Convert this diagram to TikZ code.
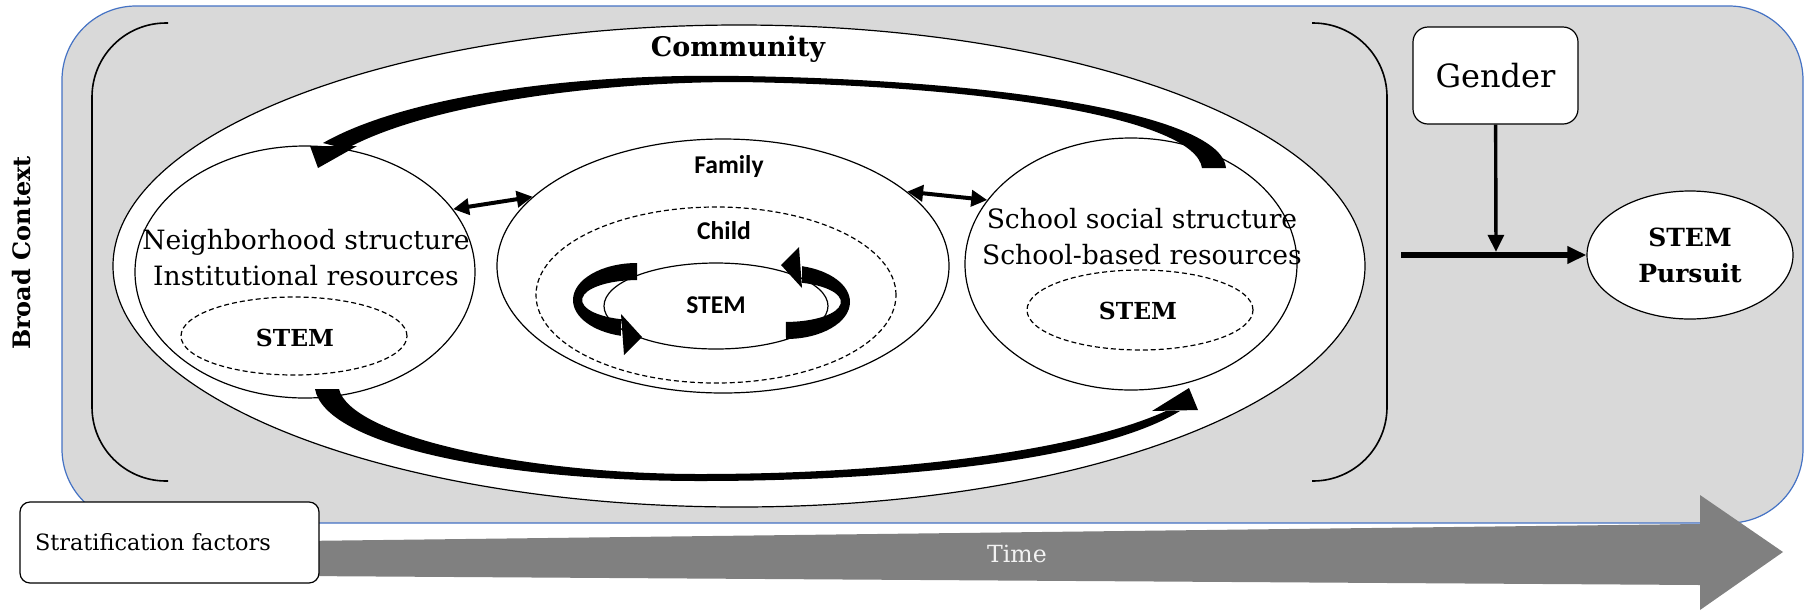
\documentclass[tikz,border=0pt]{standalone}
\usepackage{fontspec}
\setmainfont{DejaVu Serif}
\newfontfamily\calibri{Carlito}
\usetikzlibrary{shapes.geometric, arrows.meta}
\definecolor{ctxgray}{RGB}{217,217,217}
\definecolor{ctxblue}{RGB}{68,114,196}
\definecolor{timegray}{RGB}{128,128,128}

\begin{document}
\begin{tikzpicture}[x=0.5pt, y=-0.5pt, line width=0.6pt,
  ring/.style={draw, ellipse, fill=white, inner sep=0pt},
  dashring/.style={ring, dash pattern=on 2.5pt off 1.5pt},
  slab/.style={font=\fontsize{13.3}{18}\selectfont},
  stemlbl/.style={font=\bfseries\fontsize{11.7}{14}\selectfont},
  famlbl/.style={font=\calibri\bfseries\fontsize{12.8}{15}\selectfont},
  dbl/.style={{Triangle[length=8pt,width=8pt]}-{Triangle[length=8pt,width=8pt]}, line width=2pt}]
  \useasboundingbox (0,0) rectangle (1811,612);

  % broad context panel
  \draw[ctxblue, fill=ctxgray, rounded corners=37pt] (62,6) rectangle (1803,523);

  % time axis
  \fill[timegray] (300,541) -- (1700,524) -- (1700,495) -- (1783,552) -- (1700,610) -- (1700,585) -- (300,576) -- cycle;
  \node[anchor=base, text=white!95!black, font=\fontsize{11.8}{14}\selectfont] (time) at (1017,562) {Time};
  \node[draw, fill=white, rounded corners=5pt, minimum width=149.5pt, minimum height=40.5pt,
        text width=134.5pt, inner xsep=7.5pt, align=left, font=\fontsize{11.2}{14}\selectfont]
        (strat) at (169.5,542.5) {Stratification factors};

  % brackets round the community
  \draw[line width=0.8pt, rounded corners=37pt] (168,23) -- (92,23) -- (92,481) -- (168,481);
  \draw[line width=0.8pt, rounded corners=37pt] (1312,23) -- (1387,23) -- (1387,481) -- (1312,481);

  % community
  \node[ring, minimum width=626pt, minimum height=241pt] (comm) at (739,266) {};
  \node[anchor=base, font=\bfseries\fontsize{13.5}{16}\selectfont] (commlbl) at (738,56) {Community};

  % neighborhood
  \node[ring, minimum width=170pt, minimum height=126pt] (nbr) at (305,272) {};
  \node[align=center, slab] (nbrtxt) at (306,258) {Neighborhood structure\\Institutional resources};
  \node[dashring, minimum width=113pt, minimum height=39pt] (nbrstem) at (294,336) {};
  \node[anchor=base, stemlbl] (nbrstemlbl) at (295,346) {STEM};

  % family, child
  \node[ring, minimum width=226pt, minimum height=127pt] (fam) at (723,266) {};
  \node[dashring, minimum width=180pt, minimum height=88pt] (child) at (716,295) {};
  \node[ring, minimum width=112pt, minimum height=43pt] (core) at (716,306) {};
  \node[anchor=base, famlbl] (famlbl) at (729,173) {Family};
  \node[anchor=base, famlbl] (childlbl) at (724,239) {Child};
  \node[anchor=base, famlbl] (corelbl) at (716,313) {STEM};

  % feedback loop round the child
  \foreach \r in {0,180}
    \fill[rotate around={\r:(711.5,301)}]
      (637,263) arc[start angle=270, end angle=104.5, x radius=64, y radius=37]
      -- (621,319.2) arc[start angle=107, end angle=270, x radius=55, y radius=20] -- cycle
      (621,314) -- (642,337) -- (624,355) -- cycle;

  % school
  \node[ring, minimum width=166pt, minimum height=126pt] (school) at (1131,264) {};
  \node[align=center, slab] (schooltxt) at (1142,237) {School social structure\\School-based resources};
  \node[dashring, minimum width=113pt, minimum height=40pt] (schoolstem) at (1140,310) {};
  \node[anchor=base, stemlbl] (schoolstemlbl) at (1138,319) {STEM};

  % school -> neighborhood (over the top)
  \fill (1226,168) .. controls (1222,116) and (1010,80) .. (739,76)
        .. controls (560,73) and (400,99) .. (323,143) -- (346,149)
        .. controls (420,108) and (580,82) .. (739,82)
        .. controls (1000,86) and (1195,120) .. (1202,168) -- cycle;
  \fill (310,146) -- (318,168) -- (357,146) -- cycle;

  % neighborhood -> school (underneath)
  \fill (315,389) .. controls (325,445) and (500,481) .. (700,481)
        .. controls (900,481) and (1100,460) .. (1180,411) -- (1166,411)
        .. controls (1080,450) and (900,474) .. (700,474)
        .. controls (520,474) and (350,435) .. (339,389) -- cycle;
  \fill (1152,411) -- (1189,388) -- (1198,410) -- cycle;

  \draw[dbl] (nbr.23) -- (fam.160);
  \draw[dbl] (fam.22) -- (school.156);

  % outcome
  \node[draw, fill=white, rounded corners=7.5pt, minimum width=82.5pt, minimum height=48.5pt,
        font=\fontsize{16}{19}\selectfont] (gender) at (1495.5,75.5) {Gender};
  \node[ring, minimum width=103pt, minimum height=64pt, align=center,
        font=\bfseries\fontsize{12.5}{18}\selectfont] (pursuit) at (1690,255) {STEM\\Pursuit};
  \coordinate (feed) at (1401,255);
  \coordinate (join) at (1496,255);
  \draw[line width=3.3pt, -{Triangle[length=9.5pt,width=8.3pt]}] (feed) -- (pursuit.west);
  \draw[line width=1.7pt, -{Triangle[length=8.5pt,width=8pt]}, shorten >=1.6pt] (gender) -- (join);

  \node[rotate=90, font=\bfseries\fontsize{12}{14}\selectfont] (ctx) at (22,253) {Broad Context};
\end{tikzpicture}
\end{document}
